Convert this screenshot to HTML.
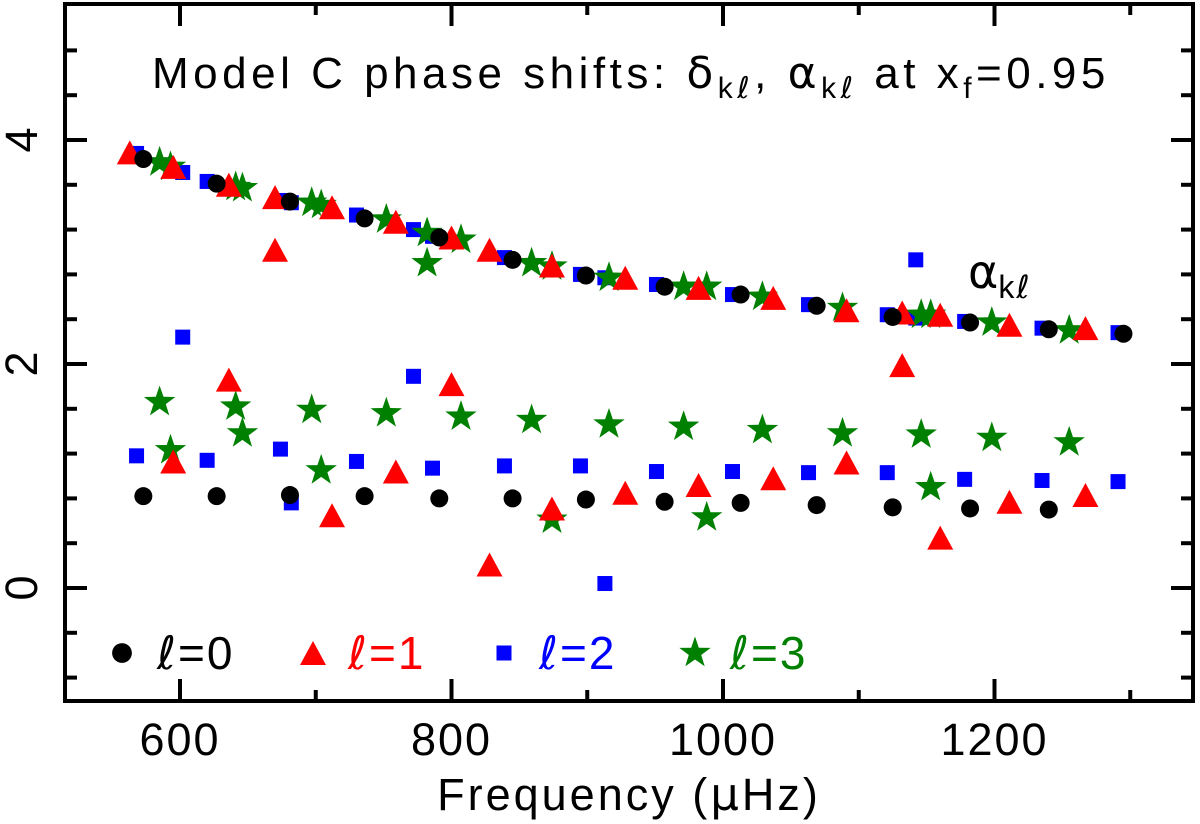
<!DOCTYPE html>
<html><head><meta charset="utf-8"><style>
html,body{margin:0;padding:0;background:#fff;}
svg{display:block;font-family:"Liberation Sans","DejaVu Sans",sans-serif;}
</style></head><body>
<svg id="chart" width="1200" height="824" viewBox="0 0 1200 824" xmlns="http://www.w3.org/2000/svg">
<g id="axes"></g>
<g id="marks"></g>
<text x="152" y="88" font-size="44" letter-spacing="4.5" fill="#000">Model C phase shifts: <tspan font-family="DejaVu Sans">δ</tspan><tspan font-size="30" dy="10">k</tspan><tspan font-size="30" font-family="DejaVu Sans" font-style="italic">ℓ</tspan><tspan dy="-10">, </tspan><tspan font-family="DejaVu Sans">α</tspan><tspan font-size="30" dy="10">k</tspan><tspan font-size="30" font-family="DejaVu Sans" font-style="italic">ℓ</tspan><tspan dy="-10"> at x</tspan><tspan font-size="30" dy="10">f</tspan><tspan dy="-10">=0.95</tspan></text>
<text x="968" y="288" font-size="46" fill="#000"><tspan font-family="DejaVu Sans">α</tspan><tspan font-size="32" dy="10" letter-spacing="2">k</tspan><tspan font-size="32" font-family="DejaVu Sans" font-style="italic">ℓ</tspan></text>
<text x="629" y="810" font-size="45" letter-spacing="3" text-anchor="middle" fill="#000">Frequency (<tspan font-family="DejaVu Sans">μ</tspan>Hz)</text>
<g id="legend"></g>
</svg>
<script>
// ---- data ----
const fl0=[573,627,681,736,791,845,899,957,1013,1069,1125,1182,1240,1295];
const al0=[3.83,3.61,3.45,3.30,3.13,2.93,2.79,2.69,2.62,2.52,2.42,2.37,2.31,2.27];
const dl0=[0.82,0.82,0.83,0.82,0.80,0.80,0.79,0.77,0.76,0.74,0.72,0.71,0.70,null];

const fl1=[563,595,636,670,712,759,800,828,874,928,982,1037,1091,1132,1160,1211,1267];
const al1=[3.89,3.76,3.60,3.49,3.40,3.27,3.13,3.02,2.88,2.77,2.68,2.59,2.48,2.46,2.44,2.35,2.32];
const dl1=[null,1.13,1.86,3.02,0.65,1.04,1.82,0.21,0.71,0.85,0.92,0.98,1.12,1.99,0.45,0.77,0.83];

const fl2=[568,602,620,674,682,730,772,786,839,895,913,951,1007,1063,1121,1142,1178,1235,1291];
const al2=[3.88,3.71,3.63,3.46,3.44,3.33,3.20,3.14,2.95,2.80,2.77,2.71,2.62,2.53,2.44,2.41,2.38,2.32,2.28];
const dl2=[1.18,2.24,1.14,1.24,0.76,1.13,1.89,1.07,1.09,1.09,0.04,1.04,1.04,1.03,1.03,2.93,0.97,0.96,0.95];

const fl3=[585,593,641,646,697,704,752,782,807,859,874,916,971,988,1029,1088,1146,1153,1198,1255];
const al3=[3.80,3.76,3.58,3.57,3.44,3.42,3.29,3.17,3.11,2.90,2.87,2.77,2.69,2.69,2.60,2.50,2.44,2.44,2.37,2.30];
const dl3=[1.66,1.23,1.62,1.38,1.59,1.05,1.56,2.90,1.53,1.50,0.61,1.46,1.44,0.63,1.41,1.38,1.37,0.90,1.34,1.30];

const xMajor=[600,800,1000,1200];
const xMinor=[700,900,1100,1300];
const yMajor=[0,2,4];
const yMinor=[-0.8,-0.4,0.4,0.8,1.2,1.6,2.4,2.8,3.2,3.6,4.4,4.8];

// ---- scales ----
const L=65,R=1193,T=4,B=701;
function X(f){return 180+(f-600)*1.3575;}
function Y(v){return 588-v*112;}
const NS="http://www.w3.org/2000/svg";
function mk(tag,attrs,parent){const e=document.createElementNS(NS,tag);for(const k in attrs)e.setAttribute(k,attrs[k]);parent.appendChild(e);return e;}

const axes=document.getElementById('axes');
const frame=mk('rect',{x:L,y:T,width:R-L,height:B-T,fill:'none',stroke:'#000','stroke-width':4},axes);


function xt(f,len,major){
  const x=X(f);
  const a=mk('line',{x1:x,x2:x,y1:B,y2:B-len,stroke:'#000','stroke-width':4},axes);
  
  
  const b=mk('line',{x1:x,x2:x,y1:T,y2:T+len,stroke:'#000','stroke-width':4},axes);
  
  
  if(major){
    const t=mk('text',{x:x,y:755,'font-size':45,'letter-spacing':2,'text-anchor':'middle',fill:'#000'},axes);
    t.textContent=String(f);
    
    
  }
}
xMajor.forEach(f=>xt(f,22,true));
xMinor.forEach(f=>xt(f,11,false));
function yt(v,len,major){
  const y=Y(v);
  const a=mk('line',{x1:L,x2:L+len,y1:y,y2:y,stroke:'#000','stroke-width':4},axes);
  
  
  const b=mk('line',{x1:R,x2:R-len,y1:y,y2:y,stroke:'#000','stroke-width':4},axes);
  
  
  if(major){
    const t=mk('text',{x:0,y:0,'font-size':45,'text-anchor':'middle',fill:'#000',transform:`translate(37,${y}) rotate(-90)`},axes);
    t.textContent=String(v);
    
    
  }
}
yMajor.forEach(v=>yt(v,22,true));
yMinor.forEach(v=>yt(v,12,false));

// ---- markers ----
function marker(shape,cx,cy,parent,s){
  s=s||1;
  let e;
  if(shape==='circle'){e=mk('circle',{cx:cx,cy:cy,r:9*s,fill:'#000'},parent);}
  else if(shape==='tri'){const w=13*s,h=12*s;e=mk('polygon',{points:`${cx},${cy-h} ${cx+w},${cy+h} ${cx-w},${cy+h}`,fill:'#f00'},parent);}
  else if(shape==='sq'){const h=7.5*s;e=mk('rect',{x:cx-h,y:cy-h,width:2*h,height:2*h,fill:'#00f'},parent);}
  else {
    let p=[];for(let i=0;i<10;i++){const r=(i%2?6.5:16.5)*s;const a=-Math.PI/2+i*Math.PI/5;p.push((cx+r*Math.cos(a)).toFixed(1)+','+(cy+r*Math.sin(a)).toFixed(1));}
    e=mk('polygon',{points:p.join(' '),fill:'#008000'},parent);
  }
  return e;
}
const marks=document.getElementById('marks');
function series(fs,as,ds,shape,name){
  const g=mk('g',{},marks);
  
  
  fs.forEach((f,i)=>{
    if(as[i]!=null){
      const m=marker(shape,X(f),Y(as[i]),g);
      
      
    }
    if(ds[i]!=null){
      const m=marker(shape,X(f),Y(ds[i]),g);
      
      
    }
  });
}
series(fl2,al2,dl2,'sq','l2');
series(fl3,al3,dl3,'star','l3');
series(fl1,al1,dl1,'tri','l1');
series(fl0,al0,dl0,'circle','l0');

// ---- legend ----
const lg=document.getElementById('legend');
const legendItems=[['circle','0','#000'],['tri','1','#f00'],['sq','2','#00f'],['star','3','#008000']];
legendItems.forEach((it,i)=>{
  const x0=122+i*191,y0=653;
  const g=mk('g',{},lg);
  
  
  const m=marker(it[0],x0,y0,g,it[0]==='circle'?1.1:1);
  
  
  const t=mk('text',{x:x0+35,y:y0+16,'font-size':46,'letter-spacing':2,fill:it[2]},g);
  t.innerHTML='<tspan font-family="DejaVu Sans" font-style="italic">ℓ</tspan>='+it[1];
  
  
});
</script>
</body></html>
